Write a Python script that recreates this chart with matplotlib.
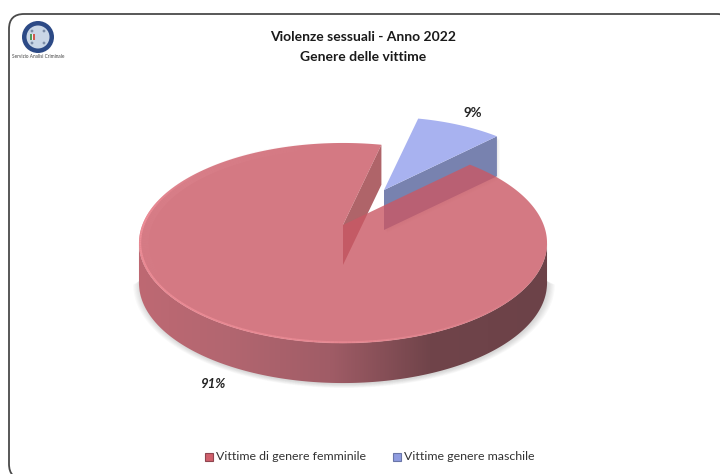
import numpy as np
import matplotlib
matplotlib.use("Agg")
import matplotlib.pyplot as plt
from matplotlib.collections import LineCollection
from matplotlib.patches import Circle, FancyBboxPatch, Polygon, Rectangle

# data
title_lines = ["Violenze sessuali - Anno 2022", "Genere delle vittime"]
categories = ["Vittime di genere femminile", "Vittime genere maschile"]
shares = [91, 9]
share_labels = ["91%", "9%"]

# look of the fake 3D pie, all in pixels
START_ANGLE = 77          # where the big slice starts, degrees counter-clockwise
RX, RY = 200.7, 96.8      # radii before the perspective squeeze
PERSPECTIVE = 0.18        # far side of the disc shrinks by this much
DEPTH = 40
APEX = (343, 225)
BLUE_APEX = (384, 190)
BLUE_SCALE = 0.89

PINK_TOP = (202 / 255, 88 / 255, 100 / 255)
PINK_WALL = (175 / 255, 100 / 255, 105 / 255)
BLUE_TOP = (168 / 255, 178 / 255, 240 / 255)
BLUE_WALL = (120 / 255, 130 / 255, 175 / 255)
FONT = "Lato"


def project(deg, apex, scale=1.0, drop=0):
    """Disc angle to pixel, with a simple perspective divide."""
    t = np.radians(deg)
    w = 1 + PERSPECTIVE * np.sin(t)
    x = apex[0] + scale * RX * np.cos(t) / w
    y = apex[1] - scale * RY * np.sin(t) / w + drop
    return np.column_stack([x, y])


def wall_gradient(x0, x1):
    """One row image of the outer wall, darker from left to right."""
    xs = np.arange(x0, x1)
    stops_x = [138, 230, 330, 430, 546]
    reds = np.interp(xs, stops_x, [190, 178, 160, 112, 108])
    greens = np.interp(xs, stops_x, [105, 102, 92, 68, 66])
    blues = np.interp(xs, stops_x, [115, 112, 102, 74, 72])
    return np.stack([reds, greens, blues], axis=-1)[np.newaxis, :, :] / 255


fig = plt.figure(figsize=(7.2, 4.74), dpi=100)
ax = fig.add_axes([0, 0, 1, 1])

# frame, runs off the right and bottom of the picture
ax.add_patch(FancyBboxPatch((9, 14), 723, 465, boxstyle="round,pad=0,rounding_size=15",
                            fc="white", ec="#4a4a4a", lw=1.3, zorder=1))

# logo
ax.add_patch(Circle((38, 37), 16, fc="#2c4a86", ec="none", zorder=2))
ax.add_patch(Circle((38, 37), 11.5, fc="#c9d6e6", ec="none", zorder=3))
for dx, dy in [(-6, -6), (6, -6), (-6, 6), (6, 6)]:
    ax.add_patch(Circle((38 + dx, 37 + dy), 1.4, fc="#7d8ea8", ec="none", zorder=4))
for i, c in enumerate(["#4f9a5b", "#f2f2f2", "#cf5a50"]):
    ax.add_patch(Rectangle((30 + i * 1.6, 34), 1.6, 6, fc=c, ec="none", zorder=4))
ax.text(38.5, 56, "Servizio Analisi Criminale", fontsize=3.4, family=FONT, color="#444444",
        ha="center", va="center", zorder=4)

# titles
for line, y in zip(title_lines, [37, 57]):
    ax.text(363, y, line, fontsize=10, fontweight="bold", family=FONT, color="#1a1a1a",
            ha="center", va="center", zorder=10)

# slice angles come from the shares
big_sweep = 360 * shares[0] / sum(shares)
big_angles = np.linspace(START_ANGLE, START_ANGLE + big_sweep, 400)
small_angles = np.linspace(START_ANGLE + big_sweep, START_ANGLE + 360, 60)

# the wall only shows between the two widest points of the disc
widest = np.degrees(np.arcsin(PERSPECTIVE))
front = np.linspace(180 + widest, 360 - widest, 180)

# soft shadow, only the crescent under the front wall
for k in range(7):
    outer = project(front, (APEX[0] + 1, APEX[1]), scale=1 + 0.0055 * k, drop=DEPTH + 1)
    inner = project(front, APEX, drop=DEPTH - 2)
    ax.add_patch(Polygon(np.vstack([outer, inner[::-1]]), fc="#555555", alpha=0.035, ec="none", zorder=5))

# small slice, pulled out and behind the big one
blue_arc = project(small_angles, BLUE_APEX, BLUE_SCALE)
blue_front = np.vstack([blue_arc[0], BLUE_APEX])
blue_wall = np.vstack([blue_front, blue_front[::-1] + [0, DEPTH]])
for k in range(1, 4):
    ax.add_patch(Polygon(blue_wall + [k, k], fc="#555555", alpha=0.04, ec="none", zorder=5.5))
ax.add_patch(Polygon(blue_wall, fc=BLUE_WALL, ec="none", zorder=6))
ax.add_patch(Polygon(np.vstack([[BLUE_APEX], blue_arc]), fc=BLUE_TOP, ec="none", zorder=6.1))

# cut wall of the big slice, seen through the top
start_edge = project(np.array([START_ANGLE]), APEX)[0]
cut = np.array([start_edge, APEX, np.add(APEX, (0, DEPTH)), start_edge + [0, DEPTH]])
ax.add_patch(Polygon(cut, fc=PINK_WALL, ec="none", zorder=6.5))

# outer wall of the big slice, a gradient clipped to the wall shape
top_pts = project(front, APEX)
wall_shape = Polygon(np.vstack([top_pts, top_pts[::-1] + [0, DEPTH]]), transform=ax.transData)
x0, x1 = int(top_pts[:, 0].min()) - 1, int(top_pts[:, 0].max()) + 2
wall_img = ax.imshow(wall_gradient(x0, x1), extent=(x0, x1, 400, 200), aspect="auto",
                     interpolation="bilinear", zorder=6.6)
wall_img.set_clip_path(wall_shape)

# axes limits go after imshow, which would reset them
ax.set_xlim(0, 720)
ax.set_ylim(474, 0)
ax.axis("off")

# top face, a bit see-through
top_face = np.vstack([[APEX], project(big_angles, APEX)])
ax.add_patch(Polygon(top_face, fc=PINK_TOP, alpha=0.8, ec="none", zorder=7))

# wide soft band inside the rim on the upper left
band_angles = np.arange(95, 220, 1.0)
band = project(band_angles, APEX, 0.97)
band_segs = np.stack([band[:-1], band[1:]], axis=1)
band_fade = np.interp(band_angles[:-1], [95, 150, 220], [0.0, 0.18, 0.0])
ax.add_collection(LineCollection(band_segs, colors=[(235 / 255, 150 / 255, 160 / 255, a) for a in band_fade],
                                 linewidths=5, zorder=7.5))

# glossy rim on the left and bottom of the disc
rim_angles = np.arange(140, 330, 1.0)
rim = project(rim_angles, APEX, 0.994)
segs = np.stack([rim[:-1], rim[1:]], axis=1)
fade = np.interp(rim_angles[:-1], [140, 175, 270, 330], [0.0, 0.85, 0.6, 0.0])
rim_cols = [(242 / 255, 145 / 255, 155 / 255, a) for a in fade]
ax.add_collection(LineCollection(segs, colors=rim_cols, linewidths=1.5, zorder=8))

# value labels
ax.text(214, 384, share_labels[0], fontsize=9.5, fontweight="bold", style="italic", family=FONT,
        color="#222222", ha="center", va="center", zorder=10)
ax.text(473, 113, share_labels[1], fontsize=9.5, fontweight="bold", style="normal", family=FONT,
        color="#222222", ha="center", va="center", zorder=10)

# legend
for x_box, x_text, name, top, wall in zip([205, 393], [216, 404], categories,
                                          ["#d0606c", "#8f9ce0"], ["#8f4650", "#6a76a8"]):
    ax.add_patch(Rectangle((x_box, 453), 8, 8, fc=top, ec=wall, lw=0.8, zorder=10))
    ax.text(x_text, 457, name, fontsize=8.9, family=FONT, color="#333333",
            ha="left", va="center", zorder=10)

fig.savefig("out.png", dpi=100)
